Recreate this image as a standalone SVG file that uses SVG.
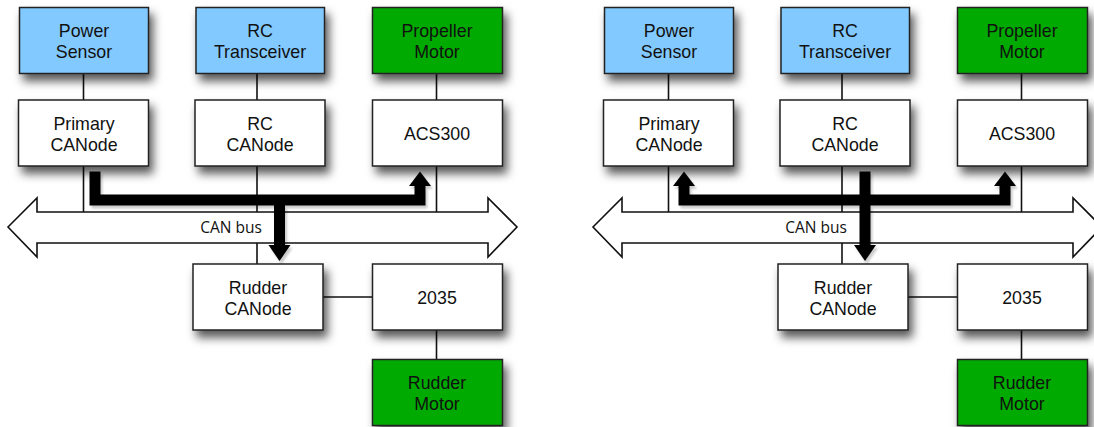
<svg xmlns="http://www.w3.org/2000/svg" width="1094" height="427" viewBox="0 0 1094 427">
<defs>
<filter id="sh" x="-20%" y="-20%" width="150%" height="170%">
<feDropShadow dx="4" dy="7" stdDeviation="5" flood-color="#000" flood-opacity="0.65"/>
</filter>
<filter id="ash" x="-10%" y="-10%" width="130%" height="130%">
<feDropShadow dx="2" dy="3" stdDeviation="1.2" flood-color="#000" flood-opacity="0.2"/>
</filter>
<g id="panel">
<g id="connectors-lines" class="ln">
<line x1="83.5" y1="73" x2="83.5" y2="100"/>
<line x1="83.5" y1="166" x2="83.5" y2="212"/>
<line x1="257" y1="73" x2="257" y2="100"/>
<line x1="257" y1="166" x2="257" y2="212"/>
<line x1="257" y1="243" x2="257" y2="264"/>
<line x1="436.5" y1="73" x2="436.5" y2="100"/>
<line x1="436.5" y1="166" x2="436.5" y2="212"/>
<line x1="323" y1="297" x2="372" y2="297"/>
<line x1="436.5" y1="330" x2="436.5" y2="359"/>
</g>
<polygon class="bus" points="8,227 37,198 37,212 488,212 488,198 517,227 488,257 488,243 37,243 37,257"/>
<text class="bt" x="231" y="233">CAN bus</text>
<g class="node"><rect class="blue" x="19.5" y="7.5" width="129" height="66"/><text x="84" y="36.5">Power</text><text x="84" y="57.5">Sensor</text></g>
<g class="node"><rect class="blue" x="196" y="7.5" width="128.5" height="66"/><text x="260" y="36.5">RC</text><text x="260" y="57.5">Transceiver</text></g>
<g class="node"><rect class="green" x="372.5" y="7.5" width="130" height="66"/><text x="437" y="36.5">Propeller</text><text x="437" y="57.5">Motor</text></g>
<g class="node"><rect class="white" x="18.5" y="100" width="130" height="66"/><text x="84" y="129.5">Primary</text><text x="84" y="150.5">CANode</text></g>
<g class="node"><rect class="white" x="195" y="100" width="130" height="66"/><text x="260" y="129.5">RC</text><text x="260" y="150.5">CANode</text></g>
<g class="node"><rect class="white" x="372.5" y="100" width="130" height="66"/><text x="437" y="140">ACS300</text></g>
<g class="node"><rect class="white" x="193" y="264" width="130" height="66"/><text x="258" y="293.5">Rudder</text><text x="258" y="314.5">CANode</text></g>
<g class="node"><rect class="white" x="372.5" y="264" width="130" height="66"/><text x="437" y="304">2035</text></g>
<g class="node"><rect class="green" x="372.5" y="359.5" width="130" height="66"/><text x="437" y="388.5">Rudder</text><text x="437" y="409.5">Motor</text></g>
</g>
</defs>
<style>
.ln line{stroke:#111;stroke-width:1.6;fill:none}
.bus{fill:#fff;stroke:#111;stroke-width:1.6;stroke-linejoin:miter}
.node rect{stroke:#222;stroke-width:1.5;filter:url(#sh)}
.blue{fill:#82c9ff}
.green{fill:#00aa00}
.white{fill:#fff}
.node text{font-family:"Liberation Sans",Arial,sans-serif;font-size:17.8px;fill:#111;text-anchor:middle}
.bt{font-family:"Open Sans","Liberation Sans",sans-serif;font-size:15.5px;fill:#111;text-anchor:middle}
.fat{fill:none;stroke:#000;stroke-width:11;stroke-linejoin:miter;stroke-linecap:butt}
.head{fill:#000}
</style>
<rect width="1094" height="427" fill="#fff"/>
<g id="left-panel">
<use href="#panel"/>
</g>
<g id="right-panel" transform="translate(585,0)">
<use href="#panel"/>
</g>
<g id="connectors" filter="url(#ash)">
<path class="fat" d="M95,171.5 L95,200 L420,200 L420,185"/>
<polygon class="head" points="409,186 420,171.5 431,186"/>
<path class="fat" d="M279.5,200 L279.5,246"/>
<polygon class="head" points="268.5,245 290.5,245 279.5,261"/>
<path class="fat" d="M684,185 L684,200 L1005,200 L1005,185"/>
<polygon class="head" points="673,186 684,171.5 695,186"/>
<polygon class="head" points="994,186 1005,171.5 1016,186"/>
<path class="fat" d="M865,171.5 L865,246"/>
<polygon class="head" points="854,245 876,245 865,261"/>
</g>
</svg>
